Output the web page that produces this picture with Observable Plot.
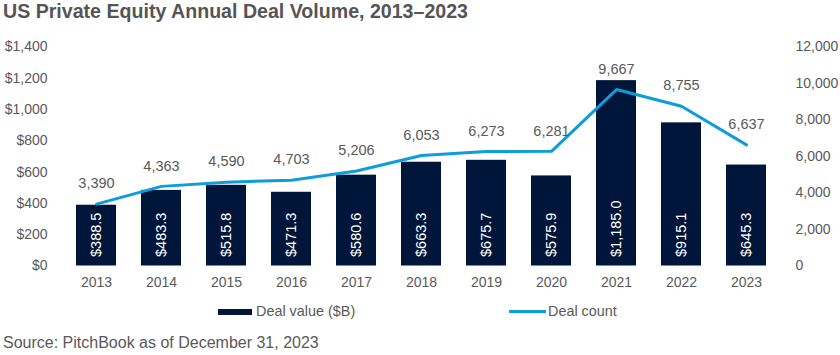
<!DOCTYPE html>
<html>
<head>
<meta charset="utf-8">
<script src="https://cdn.jsdelivr.net/npm/d3@7"></script>
<script src="https://cdn.jsdelivr.net/npm/@observablehq/plot@0.6"></script>
<style>
  body { margin: 0; background: #fff; font-family: "Liberation Sans", Arial, sans-serif; }
  #wrap { position: relative; width: 840px; height: 355px; overflow: hidden; }
  #title { position: absolute; left: 3px; top: 0px; font-size: 19.6px; font-weight: bold; color: #555555; line-height: 22px; white-space: nowrap; }
  #chart { position: absolute; left: 0; top: 30px; }
  .leg { position: absolute; top: 302px; font-size: 14.4px; color: #595959; line-height: 18px; white-space: nowrap; }
  .sw { position: absolute; }
  #source { position: absolute; left: 3px; top: 334px; font-size: 16px; color: #595959; line-height: 18px; white-space: nowrap; }
</style>
</head>
<body>
<div id="wrap">
  <div id="title">US Private Equity Annual Deal Volume, 2013–2023</div>
  <div id="chart"></div>
  <div class="sw" style="left:218px; top:309px; width:34px; height:6px; background:#00153a;"></div>
  <div class="leg" style="left:256px;">Deal value ($B)</div>
  <div class="sw" style="left:509px; top:310px; width:37px; height:3px; background:#0d9ddb;"></div>
  <div class="leg" style="left:548px;">Deal count</div>
  <div id="source">Source: PitchBook as of December 31, 2023</div>
</div>
<script>
const years = ["2013","2014","2015","2016","2017","2018","2019","2020","2021","2022","2023"];
const dealValue = [388.5, 483.3, 515.8, 471.3, 580.6, 663.3, 675.7, 575.9, 1185.0, 915.1, 645.3];
const dealCount = [3390, 4363, 4590, 4703, 5206, 6053, 6273, 6281, 9667, 8755, 6637];
const leftTicks = [0, 200, 400, 600, 800, 1000, 1200, 1400];
const rightTicks = [0, 2000, 4000, 6000, 8000, 10000, 12000];

const barColor = "#00153a";
const lineColor = "#0d9ddb";
const textColor = "#595959";
const ratio = 1400 / 12000;

const data = years.map((y, i) => ({year: y, value: dealValue[i], count: dealCount[i]}));
const fmtCount = d3.format(",");
const fmtValue = d => "$" + d3.format(",.1f")(d);
const fmtAxis = d => "$" + d3.format(",")(d);

const chart = Plot.plot({
  width: 840,
  height: 270,
  marginLeft: 60.6,
  marginRight: 58,
  marginTop: 16.5,
  marginBottom: 34.5,
  style: {fontFamily: "'Liberation Sans', Arial, sans-serif", fontSize: "14px", color: textColor, background: "transparent"},
  x: {domain: years, paddingInner: 0.38, paddingOuter: 0.19, label: null},
  y: {domain: [0, 1400], label: null},
  marks: [
    Plot.barY(data, {x: "year", y: "value", fill: barColor}),
    Plot.text(data, {x: "year", y: 0, text: d => fmtValue(d.value), rotate: -90, textAnchor: "start", dy: -9, fill: "white", fontSize: 14.5}),
    Plot.line(data, {x: "year", y: d => d.count * ratio, stroke: lineColor, strokeWidth: 3, strokeLinejoin: "round"}),
    Plot.text(data, {x: "year", y: d => d.count * ratio, text: d => fmtCount(d.count), dy: -20.5, fill: textColor, fontSize: 14.5}),
    Plot.axisX({tickSize: 0, tickPadding: 11.5, fontSize: 14, color: textColor}),
    Plot.axisY(leftTicks, {anchor: "left", tickSize: 0, tickPadding: 13.5, tickFormat: fmtAxis, fontSize: 14, color: textColor, label: null}),
    Plot.axisY(rightTicks, {anchor: "right", y: d => d * ratio, text: d => fmtCount(d), tickSize: 0, tickPadding: 13, fontSize: 14, color: textColor, label: null})
  ]
});
document.getElementById("chart").appendChild(chart);
</script>
</body>
</html>
